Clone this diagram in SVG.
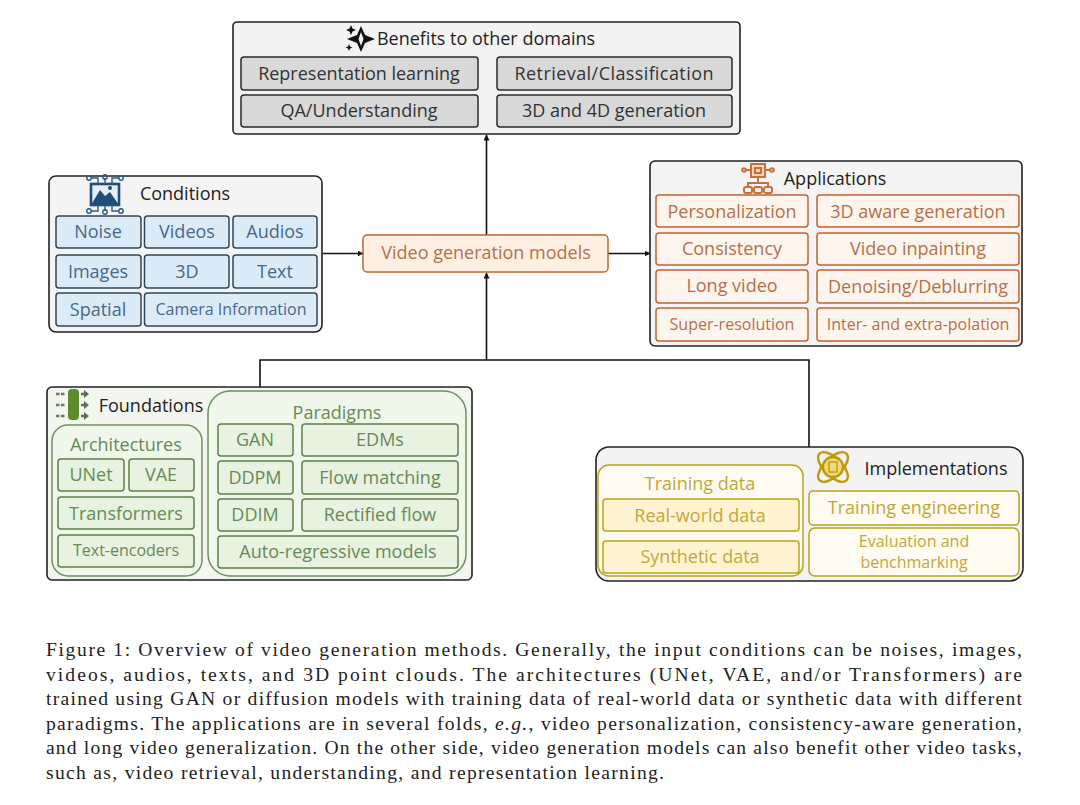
<svg xmlns="http://www.w3.org/2000/svg" width="1080" height="805" viewBox="0 0 1080 805">
<defs>
<marker id="ah" markerWidth="7" markerHeight="7" refX="5.5" refY="3" orient="auto" markerUnits="userSpaceOnUse"><path d="M0,0 L6,3 L0,6 Z" fill="#111"/></marker>
</defs>
<style>
text{font-family:"Open Sans","Noto Sans","Liberation Sans",sans-serif;text-anchor:middle}
.outer{stroke:#222;stroke-width:1.6}
.t{font-size:18px;fill:#222}
.c{font-size:18px}
.s{font-size:16px}
.gray rect{fill:#d9d9d9;stroke:#2b2b2b;stroke-width:1.5}
.gray text{fill:#333}
.blue rect{fill:#dcebf8;stroke:#2f4658;stroke-width:1.5}
.blue text{fill:#46688a}
.or rect{fill:#fef5ee;stroke:#c4622e;stroke-width:1.5}
.or text{fill:#b4704a}
.gr rect{fill:#e8f2e0;stroke:#5c8048;stroke-width:1.5}
.gr text{fill:#678a55}
.gr .wrap{fill:#eff6ea;stroke:#6f9060}
.ye rect{fill:#fff3d2;stroke:#b5a51a;stroke-width:1.5}
.ye text{fill:#bfa83a}
.ye .lite{fill:#fffaf2}
.cap{font-family:"Liberation Serif",serif;font-size:19.6px;fill:#222;text-anchor:start}
.conn{fill:none;stroke:#111;stroke-width:1.6}
</style>
<rect width="1080" height="805" fill="#fff"/>
<g id="connectors" class="conn">
<path d="M486.500,235V135" marker-end="url(#ah)"/>
<path d="M323,253.500H363" marker-end="url(#ah)"/>
<path d="M608,253.500H650" marker-end="url(#ah)"/>
<path d="M486.500,360V273" marker-end="url(#ah)"/>
<path d="M260,387V360H809V447"/>
</g>
<g id="benefits">
<rect class="outer" x="233" y="22" width="507" height="112" rx="4" fill="#f3f3f3"/>
<g fill="#111"><path d="M361,26 L365,35 L375,39 L365,43 L361,52 L357,43 L347,39 L357,35 Z M361,32 L358.500,39 L361,46 L363.500,39 Z" fill-rule="evenodd"/><path d="M351,25 L352.500,28.500 L356,30 L352.500,31.500 L351,35 L349.500,31.500 L346,30 L349.500,28.500 Z"/><path d="M349,44 L350,46.500 L352.500,47.500 L350,48.500 L349,51 L348,48.500 L345.500,47.500 L348,46.500 Z"/></g>
<text class="t" x="486" y="45">Benefits to other domains</text>
<g class="gray c">
<g id="b1"><rect x="241" y="57" width="237" height="33" rx="3"/><text x="359" y="80">Representation learning</text></g>
<g id="b2"><rect x="497" y="57" width="235" height="33" rx="3"/><text x="614" y="80" textLength="199">Retrieval/Classification</text></g>
<g id="b3"><rect x="241" y="95" width="237" height="32" rx="3"/><text x="359" y="117">QA/Understanding</text></g>
<g id="b4"><rect x="497" y="95" width="235" height="32" rx="3"/><text x="614" y="117">3D and 4D generation</text></g>
</g>
</g>
<g id="conditions">
<rect class="outer" x="49" y="176" width="273" height="156" rx="7" fill="#f4f4f4"/>
<g id="conditions-icon" fill="#1f4e79"><rect x="91" y="184" width="28" height="21" fill="#e6eff7" stroke="#1f4e79" stroke-width="2.600"/><path d="M91,205 L100,190 L105,196 L110,192 L119,205 Z"/><circle cx="110" cy="188" r="2"/><g fill="none" stroke="#2b5a82" stroke-width="1.400"><path d="M91,178H98V184M105,178V184M119,178H112V184M91,211H98V205M105,211V205M119,211H112V205"/><circle cx="89" cy="178" r="2.200"/><circle cx="105" cy="177" r="2.200"/><circle cx="121" cy="178" r="2.200"/><circle cx="89" cy="211" r="2.200"/><circle cx="105" cy="212" r="2.200"/><circle cx="121" cy="211" r="2.200"/></g></g>
<text class="t" x="185" y="200">Conditions</text>
<g class="blue c">
<g><rect x="56" y="216" width="85" height="32" rx="3"/><text x="98" y="238">Noise</text></g>
<g><rect x="144.500" y="216" width="84.500" height="32" rx="3"/><text x="187" y="238">Videos</text></g>
<g><rect x="233" y="216" width="84" height="32" rx="3"/><text x="275" y="238">Audios</text></g>
<g><rect x="56" y="255" width="85" height="33" rx="3"/><text x="98" y="278">Images</text></g>
<g><rect x="144.500" y="255" width="84.500" height="33" rx="3"/><text x="187" y="278">3D</text></g>
<g><rect x="233" y="255" width="84" height="33" rx="3"/><text x="275" y="278">Text</text></g>
<g><rect x="56" y="293" width="85" height="33" rx="3"/><text x="98" y="316">Spatial</text></g>
<g><rect x="144.500" y="293" width="172.500" height="33" rx="3"/><text class="s" x="231" y="315">Camera Information</text></g>
</g>
</g>
<g id="video-generation-models" class="or c">
<rect x="363" y="235" width="245" height="37" rx="4" style="fill:#fdefe2"/><text x="486" y="259">Video generation models</text>
</g>
<g id="applications">
<rect class="outer" x="650" y="161" width="372" height="185" rx="5" fill="#f4f4f4"/>
<g id="applications-icon" fill="none" stroke="#c8703a" stroke-width="2"><rect x="751" y="164" width="14" height="13" fill="#f6d5bd"/><rect x="755" y="168" width="6" height="5"/><path d="M751,170H746M765,170H770M758,177V183M748,187V183H768V187"/><circle cx="744" cy="170" r="1.800"/><circle cx="772" cy="170" r="1.800"/><rect x="744" y="187" width="8" height="6" rx="2"/><rect x="754" y="187" width="8" height="6" rx="2"/><rect x="764" y="187" width="8" height="6" rx="2"/></g>
<text class="t" x="835" y="185">Applications</text>
<g class="or c">
<g><rect x="656" y="195" width="152" height="32" rx="3"/><text x="732" y="218">Personalization</text></g>
<g><rect x="817" y="195" width="202" height="32" rx="3"/><text x="918" y="218">3D aware generation</text></g>
<g><rect x="656" y="233" width="152" height="32" rx="3"/><text x="732" y="255">Consistency</text></g>
<g><rect x="817" y="233" width="202" height="32" rx="3"/><text x="918" y="255">Video inpainting</text></g>
<g><rect x="656" y="270" width="152" height="33" rx="3"/><text x="732" y="292">Long video</text></g>
<g><rect x="817" y="270" width="202" height="33" rx="3"/><text x="918" y="293">Denoising/Deblurring</text></g>
<g><rect x="656" y="308" width="152" height="33" rx="3"/><text class="s" x="732" y="330">Super-resolution</text></g>
<g><rect x="817" y="308" width="202" height="33" rx="3"/><text class="s" x="918" y="330">Inter- and extra-polation</text></g>
</g>
</g>
<g id="foundations">
<rect class="outer" x="47" y="387" width="425" height="193" rx="5" fill="#f2f6ee"/>
<g id="foundations-icon"><rect x="68" y="389" width="11" height="31" rx="4" fill="#5c8a2e"/><path d="M56,394H65M56,405H65M56,416H65" stroke="#6e7a66" stroke-width="2.400" stroke-dasharray="3.500 1.500"/><path d="M81,394H85M81,405H85M81,416H85" stroke="#5f6f55" stroke-width="2.400"/><path d="M84,390L89,394L84,398ZM84,401L89,405L84,409ZM84,412L89,416L84,420Z" fill="#5f6f55"/></g>
<text class="t" x="151" y="412">Foundations</text>
<g class="gr">
<rect class="wrap" x="52" y="425" width="150" height="151" rx="16"/>
<rect class="wrap" x="208" y="391" width="258" height="185" rx="22"/>
</g>
<g class="gr c">
<text x="126" y="451">Architectures</text>
<text x="337" y="419">Paradigms</text>
<g><rect x="58" y="459" width="66" height="32" rx="3"/><text x="91" y="481">UNet</text></g>
<g><rect x="129" y="459" width="65" height="32" rx="3"/><text x="161" y="481">VAE</text></g>
<g><rect x="58" y="497" width="136" height="32" rx="3"/><text x="126" y="520">Transformers</text></g>
<g><rect x="58" y="535" width="136" height="32" rx="3"/><text class="s" x="126" y="556">Text-encoders</text></g>
<g><rect x="218" y="424" width="75" height="32" rx="3"/><text x="255" y="446">GAN</text></g>
<g><rect x="302" y="424" width="156" height="32" rx="3"/><text x="380" y="446">EDMs</text></g>
<g><rect x="218" y="461" width="75" height="33" rx="3"/><text x="255" y="484">DDPM</text></g>
<g><rect x="302" y="461" width="156" height="33" rx="3"/><text x="380" y="484">Flow matching</text></g>
<g><rect x="218" y="499" width="75" height="32" rx="3"/><text x="255" y="521">DDIM</text></g>
<g><rect x="302" y="499" width="156" height="32" rx="3"/><text x="380" y="521">Rectified flow</text></g>
<g><rect x="218" y="536" width="240" height="32" rx="3"/><text x="338" y="558">Auto-regressive models</text></g>
</g>
</g>
<g id="implementations">
<rect class="outer" x="596" y="447" width="427" height="134" rx="13" fill="#f3f3f3"/>
<g id="implementations-icon" fill="none" stroke="#bf9a10" stroke-width="2.400"><ellipse cx="833" cy="467" rx="19" ry="9" transform="rotate(45 833 467)"/><ellipse cx="833" cy="467" rx="19" ry="9" transform="rotate(-45 833 467)"/><circle cx="833" cy="467" r="10" fill="#f2d977"/><rect x="829" y="462" width="8" height="10" stroke-width="1.400"/></g>
<text class="t" x="936" y="475">Implementations</text>
<g class="ye c">
<rect class="lite" x="598" y="465" width="205" height="111" rx="11"/>
<text x="700" y="490">Training data</text>
<g><rect x="603" y="499" width="196" height="32" rx="3"/><text x="700" y="522">Real-world data</text></g>
<g><rect x="603" y="541" width="196" height="32" rx="3"/><text x="700" y="563">Synthetic data</text></g>
<g><rect class="lite" x="809" y="491" width="210" height="34" rx="4"/><text x="914" y="514">Training engineering</text></g>
<g><rect class="lite" x="809" y="528" width="210" height="48" rx="6"/><text class="s" x="914" y="547">Evaluation and</text><text class="s" x="914" y="568">benchmarking</text></g>
</g>
</g>
<g id="caption">
<text class="cap" x="46" y="656" textLength="976">Figure 1: Overview of video generation methods. Generally, the input conditions can be noises, images,</text>
<text class="cap" x="46" y="681" textLength="976">videos, audios, texts, and 3D point clouds. The architectures (UNet, VAE, and/or Transformers) are</text>
<text class="cap" x="46" y="705" textLength="976">trained using GAN or diffusion models with training data of real-world data or synthetic data with different</text>
<text class="cap" x="46" y="730" textLength="976">paradigms. The applications are in several folds, <tspan font-style="italic">e.g.</tspan>, video personalization, consistency-aware generation,</text>
<text class="cap" x="46" y="754" textLength="976">and long video generalization. On the other side, video generation models can also benefit other video tasks,</text>
<text class="cap" x="46" y="779" textLength="618">such as, video retrieval, understanding, and representation learning.</text>
</g>
</svg>
